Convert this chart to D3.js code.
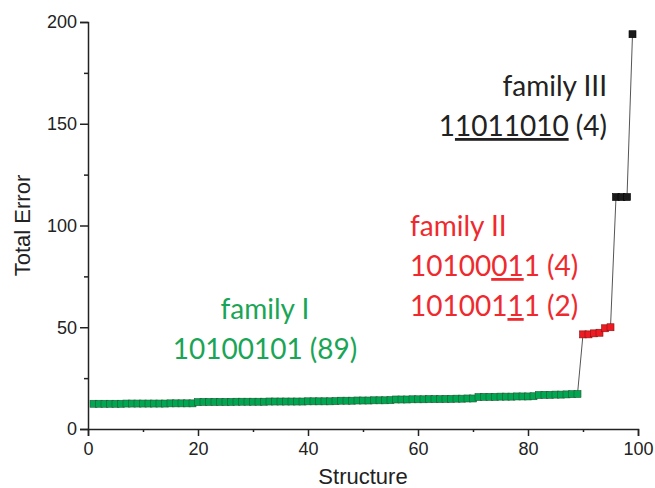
<!DOCTYPE html>
<html>
<head>
<meta charset="utf-8">
<script src="https://cdn.jsdelivr.net/npm/d3@7"></script>
<style>
  body { margin: 0; background: #fff; }
  svg text { font-family: "Liberation Sans", Arial, sans-serif; }
  .note { font-family: Lato, "Open Sans", sans-serif; font-size: 28px; }
</style>
</head>
<body>
<svg id="chart" width="655" height="488"></svg>
<script>
// values, one per structure
const familyI = [
  12.4, 12.4, 12.4, 12.4, 12.4, 12.4, 12.5, 12.5, 12.5, 12.5,
  12.5, 12.5, 12.5, 12.5, 12.6, 12.6, 12.6, 12.6, 12.6, 13.2,
  13.3, 13.3, 13.3, 13.3, 13.3, 13.3, 13.4, 13.4, 13.4, 13.4,
  13.4, 13.4, 13.5, 13.5, 13.5, 13.5, 13.5, 13.5, 13.5, 13.6,
  13.6, 13.6, 13.6, 13.6, 13.7, 13.9, 13.9, 13.9, 14.0, 14.0,
  14.0, 14.1, 14.1, 14.1, 14.2, 14.5, 14.5, 14.5, 14.6, 14.6,
  14.6, 14.7, 14.7, 14.7, 14.8, 14.8, 14.9, 14.9, 15.0, 15.0,
  15.7, 15.8, 15.8, 15.8, 15.9, 15.9, 15.9, 16.0, 16.0, 16.0,
  16.1, 16.7, 16.8, 16.8, 16.9, 16.9, 17.0, 17.1, 17.2
];
const familyII = [46.5, 46.5, 47, 47.3, 49.5, 50];
const familyIII = [114, 114, 114, 194];

const xTicks = [0, 20, 40, 60, 80, 100];
const yTicks = [0, 50, 100, 150, 200];

const points = [
  ...familyI.map(v => ({ fam: "I", v })),
  ...familyII.map(v => ({ fam: "II", v })),
  ...familyIII.map(v => ({ fam: "III", v }))
].map((d, i) => ({ ...d, x: i + 1 }));

const fill = { I: "#00a651", II: "#ed1c24", III: "#1a1a1a" };
const edge = { I: "#1f5a33", II: "#8a1010", III: "#000" };

const svg = d3.select("#chart");
const x = d3.scaleLinear().domain([0, 100]).range([88, 638]);
const y = d3.scaleLinear().domain([0, 200]).range([429, 22]);

// x axis: majors with labels, minors in between
const gx = svg.append("g").attr("transform", `translate(0,${y(0)})`);
gx.call(d3.axisBottom(x).tickValues(xTicks).tickSize(7).tickPadding(6).tickFormat(d3.format("d")));
gx.append("g").call(d3.axisBottom(x).tickValues([10, 30, 50, 70, 90]).tickSize(3).tickFormat(""))
  .select(".domain").remove();

const gy = svg.append("g").attr("transform", `translate(${x(0)},0)`);
gy.call(d3.axisLeft(y).tickValues(yTicks).tickSize(8).tickPadding(3).tickFormat(d3.format("d")));
gy.append("g").call(d3.axisLeft(y).tickValues([25, 75, 125, 175]).tickSize(4).tickFormat(""))
  .select(".domain").remove();

svg.selectAll(".domain").attr("stroke", "#222").attr("stroke-width", 1.5);
svg.selectAll(".tick line").attr("stroke", "#222").attr("stroke-width", 1.5);
svg.selectAll(".tick text").attr("font-size", 18).attr("fill", "#222")
  .attr("font-family", "Liberation Sans, Arial, sans-serif");

svg.append("text").attr("x", x(50)).attr("y", 484).attr("text-anchor", "middle")
  .attr("font-size", 22).attr("fill", "#222").text("Structure");
svg.append("text").attr("transform", `translate(30,${y(100)}) rotate(-90)`)
  .attr("text-anchor", "middle").attr("font-size", 22).attr("fill", "#222").text("Total Error");

// connecting line
svg.append("path").datum(points)
  .attr("fill", "none").attr("stroke", "#555").attr("stroke-width", 1)
  .attr("d", d3.line().x(d => x(d.x)).y(d => y(d.v)));

const s = 7;
svg.append("g").selectAll("rect").data(points).join("rect")
  .attr("x", d => x(d.x) - s / 2)
  .attr("y", d => y(d.v) - s / 2)
  .attr("width", s).attr("height", s)
  .attr("fill", d => fill[d.fam])
  .attr("stroke", d => edge[d.fam])
  .attr("stroke-width", 0.6);

// annotations, with underlined digits
const note = (lines, px, py, anchor, color) => {
  const t = svg.append("text").attr("class", "note").attr("fill", color)
    .attr("text-anchor", anchor);
  lines.forEach((parts, i) => {
    const line = t.append("tspan").attr("x", px).attr("y", py + i * 40);
    parts.forEach(p => {
      const ts = line.append("tspan").text(p[0]);
      if (p[1]) ts.style("text-decoration", "underline");
    });
  });
};

note([[["family I"]], [["10100101 (89)"]]], 265, 319, "middle", "#1aa556");
note([[["family II"]], [["10100"], ["01", 1], ["1 (4)"]], [["101001"], ["1", 1], ["1 (2)"]]],
  410, 236, "start", "#ee2a2e");
note([[["family III"]], [["1"], ["1011010", 1], [" (4)"]]], 607, 96, "end", "#222");
</script>
</body>
</html>
